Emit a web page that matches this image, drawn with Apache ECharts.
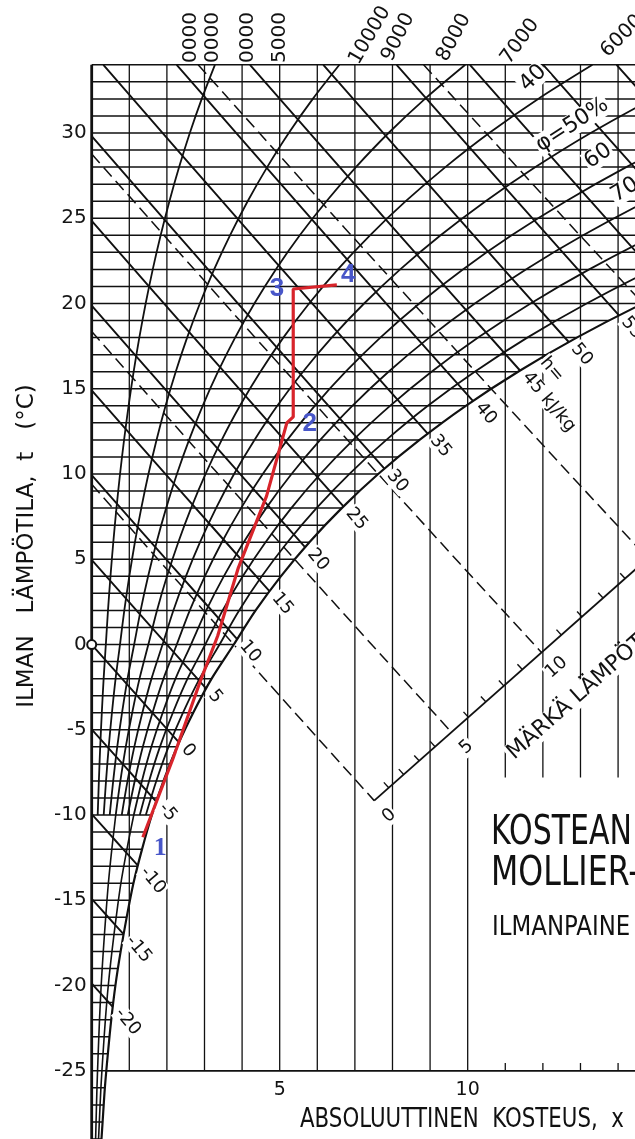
<!DOCTYPE html>
<html><head><meta charset="utf-8">
<script src="https://cdn.jsdelivr.net/npm/echarts@6/dist/echarts.min.js"></script>
<style>html,body{margin:0;padding:0;background:#fff}#c{width:635px;height:1139px}</style>
</head><body><div id="c"></div>
<script>
// ---------------- data ----------------
const tempTicks = [-25,-20,-15,-10,-5,0,5,10,15,20,25,30];
const humTicks = [5,10];
const humLines = [1,2,3,4,5,6,7,8,9,10,11,12,13,14];
// saturation curve: temperature (°C) -> absolute humidity (g/kg)
const satT = [-29,-28,-26,-24,-22,-20,-18,-16,-14,-12,-10,-8,-6,-4,-2,0,2,4,6,8,10,12,14,16,18,20,22,24,26,28,30,32,34];
const satX = [0.26,0.29,0.35,0.43,0.52,0.63,0.77,0.93,1.11,1.34,1.60,1.91,2.27,2.70,3.19,3.78,4.36,5.03,5.79,6.65,7.62,8.72,9.95,11.34,12.90,14.66,16.63,18.84,21.31,24.06,27.12,30.56,34.40];
const rhLevels = [10,20,30,40,50,60,70,80,90];
const rhLowLevels = [40,70];
const enthalpyLevels = [-20,-15,-10,-5,0,5,10,15,20,25,30,35,40,45,50,55,60,65,70,75,80,85,90,95,100];
const enthalpyLabels = [-20,-15,-10,-5,0,5,10,15,20,25,30,35,40,45,50,55];
const wetBulbLevels = [0,5,10,15,20,25];
const wetScaleLabels = [0,5,10];
const wetScaleLine = [[7.47,-9.24],[14.38,4.25]];
const processX = [1.36,2.16,2.88,3.35,3.90,4.65,5.19,5.36,5.36,6.52];
const processT = [-11.3,-6.7,-2.2,0.5,4.5,8.7,13.0,13.35,20.85,21.09];
const pointNames = ['1','2','3','4'];
const pointX = [1.82,5.80,4.93,6.82];
const pointT = [-11.95,12.94,20.85,21.67];
const edgeScaleLabels = ['0000','0000','0000','5000','10000','9000','8000','7000','6000'];
const rhLabelTexts = ['40','φ=50%','60','70'];

// ---------------- layout / style ----------------
const XMAX = 14.45, TMIN = -29, TMAX = 34, P = 101325;
const BLACK = '#111111';
const edgeLayout = [
  {x:191,y:63,rot:90},{x:213,y:63,rot:90},{x:248,y:63,rot:90},{x:280,y:63,rot:90},
  {x:354,y:63,rot:60},{x:387,y:60,rot:64},{x:442,y:60,rot:62},{x:505,y:62,rot:54},{x:604,y:54,rot:45}
];
const rhLabelAt = [[11.74,33.22,45],[12.78,30.47,33],[13.47,28.65,35],[14.18,26.66,32]];
const wetTitleAt = [11.10,-6.60];

// ---------------- helpers (chart construction) ----------------
function xsAt(t){
  let i = 0;
  while (i < satT.length-2 && t > satT[i+1]) i++;
  const f = (t-satT[i])/(satT[i+1]-satT[i]);
  return Math.exp(Math.log(satX[i])*(1-f) + Math.log(satX[i+1])*f);
}
function hAt(x,t){ return 1.006*t + x*(2.501+0.00186*t); }
function tChart(x,h){ return (h-2.501*x)/(1.006+0.00186*x); }
function bisect(f,a,b){
  let fa = f(a);
  for (let k=0;k<60;k++){ const m=(a+b)/2, fm=f(m); if ((fm>0)===(fa>0)){a=m;fa=fm;} else b=m; }
  return (a+b)/2;
}
function tSatOfH(h){ return bisect(t=>hAt(xsAt(t),t)-h, -35, 36); }
function rhX(t, rh){ const xs = xsAt(t); const p = P*xs/(622+xs)*rh/100; return 622*p/(P-p); }

const series = [];
function addLine(pts, w, opts){
  opts = opts || {};
  series.push({
    type:'line', data:pts, showSymbol:false, symbol:'none', silent:true, animation:false,
    smooth: opts.smooth || false, clip:true, z: opts.z || 2,
    lineStyle:{color: opts.color || BLACK, width:w, type: opts.type || 'solid', cap:'butt'}
  });
}

// isotherms (every 1 °C)
for (let t=TMIN; t<=TMAX; t++){
  addLine([[0,t],[Math.min(xsAt(t), XMAX+1),t]], 1.5);
}
// constant humidity lines
humLines.forEach(x=>{
  if (x <= 10) addLine([[x,-25],[x,TMAX]], 1.3);
  else { addLine([[x,-7.8],[x,TMAX]], 1.3); addLine([[x,-25],[x,-24.55]], 1.3); }
});
addLine([[0,TMIN],[0,TMAX]], 2.8);
// bottom axis line at -25 °C
addLine([[xsAt(-25),-25],[XMAX+1,-25]], 1.8);
// relative humidity curves
rhLevels.forEach(rh=>{
  const pts = satT.filter(t=>t>=-10).map(t=>[rhX(t,rh),t]);
  addLine(pts, 1.8, {smooth:0.3});
});
rhLowLevels.forEach(rh=>{
  const pts = satT.filter(t=>t<=-10).map(t=>[rhX(t,rh),t]);
  addLine(pts, 1.6, {smooth:0.3});
});
// saturation curve
addLine(satT.map((t,i)=>[satX[i],t]), 2.2, {smooth:0.3});
// enthalpy lines
const hEnds = {};
enthalpyLevels.forEach(h=>{
  const t0 = h/1.006;
  if (t0 < TMIN) return;
  let xs0 = 0, ts0 = t0;
  if (t0 > TMAX){ xs0 = (h-1.006*TMAX)/(2.501+0.00186*TMAX); ts0 = TMAX; }
  const tE = tSatOfH(h), xE = xsAt(tE);
  hEnds[h] = [xE,tE];
  const pts = [];
  for (let k=0;k<=4;k++){ const x = xs0 + (xE-xs0)*k/4; pts.push([x, k===4?tE:(k===0?ts0:tChart(x,h))]); }
  addLine(pts, 1.9);
});
// wet-bulb lines (dashed) and the wet-bulb scale
const A = wetScaleLine[0], B = wetScaleLine[1];
function wbLine(tw){
  const xs = xsAt(tw), hs = hAt(xs,tw);
  return x => tChart(x, hs + 0.004186*tw*(x-xs));
}
function scaleCross(tw){
  const f = wbLine(tw), xs = xsAt(tw);
  const g = x => (B[0]-A[0])*(f(x)-A[1]) - (B[1]-A[1])*(x-A[0]);
  const xi = bisect(g, xs, xs+20);
  return [xi, f(xi)];
}
wetBulbLevels.forEach(tw=>{
  const f = wbLine(tw), xs = xsAt(tw);
  let x0 = 0;
  if (f(0) > TMAX) x0 = bisect(x=>f(x)-TMAX, 0, xs);
  const end = scaleCross(tw);
  const pts = [[x0,f(x0)],[(x0+xs)/2,f((x0+xs)/2)],[xs,tw],[(xs+end[0])/2,f((xs+end[0])/2)],end];
  addLine(pts, 1.5, {type:[12,6]});
});
const scaleStart = scaleCross(0);
const tScaleEnd = A[1] + (B[1]-A[1])*(16-A[0])/(B[0]-A[0]);
addLine([scaleStart,[16,tScaleEnd]], 1.8);
for (let tw=1; tw<=17; tw++){
  if (tw%5===0) continue;
  const c = scaleCross(tw), f = wbLine(tw);
  addLine([[c[0]-0.13, f(c[0]-0.13)], c], 1.4);
}
// process line
addLine(processX.map((x,i)=>[x,processT[i]]), 3.2, {color:'#d8242b', z:6});

const chart = echarts.init(document.getElementById('c'));
chart.setOption({
  animation:false,
  backgroundColor:'#ffffff',
  textStyle:{fontFamily:'DejaVu Sans'},
  grid:{left:91.7,right:0,top:64.8,bottom:0,containLabel:false},
  xAxis:{type:'value',min:0,max:XMAX,axisLine:{show:false},axisTick:{show:false},axisLabel:{show:false},splitLine:{show:false}},
  yAxis:{type:'value',min:TMIN,max:TMAX,interval:1,axisLine:{show:false},axisTick:{show:false},splitLine:{show:false},
    axisLabel:{interval:0,margin:5,fontSize:20,fontFamily:'DejaVu Sans',color:'#151515',
      formatter:v=>tempTicks.indexOf(v)>=0?String(v):''}},
  series: series
});

// ---------------- text & marks placed through the chart scales ----------------
const px = (x,t)=>chart.convertToPixel({gridIndex:0},[x,t]);
const g = [];
function txt(x,y,text,o){
  g.push({type:'text', x:x, y:y, rotation:(o.rot||0)*Math.PI/180, scaleX:o.sx||1, z:100, silent:true,
    style:{text:text, font:o.font, fill:o.fill||BLACK, align:o.align||'left', verticalAlign:o.va||'middle',
      backgroundColor:o.bg, padding:o.pad}});
}
// axis titles
txt(27,546,'ILMAN   LÄMPÖTILA,  t   (°C)',{rot:90,align:'center',font:'23px "DejaVu Sans"'});
txt(300,1119.5,'ABSOLUUTTINEN  KOSTEUS,  x',{sx:0.79,font:'27px "DejaVu Sans"'});
// x tick labels
humTicks.forEach(v=>{ const p=px(v,-25); txt(p[0],p[1]+19,String(v),{align:'center',font:'19px "DejaVu Sans"'}); });
// title block
txt(491,834,'KOSTEAN ILMAN',{sx:0.75,font:'40px "DejaVu Sans"'});
txt(491,875,'MOLLIER-DIAGRAMMI',{sx:0.79,font:'40px "DejaVu Sans"'});
txt(492,928,'ILMANPAINE 101,3 kPa',{sx:0.88,font:'26px "DejaVu Sans"'});
// edge scale
edgeScaleLabels.forEach((s,i)=>{ const L=edgeLayout[i]; txt(L.x,L.y,s,{rot:L.rot,font:'20px "DejaVu Sans"'}); });
// enthalpy labels
enthalpyLabels.forEach(h=>{
  const e = hEnds[h]; if (!e) return;
  const p = px(e[0],e[1]);
  const S = [p[0]+5, p[1]+3];
  txt(S[0],S[1], h===45?'45 kJ/kg':String(h), {rot:-50,font:'18px "DejaVu Sans"',bg:'#fff',pad:[0,1]});
  if (h===45) txt(S[0]+17.6,S[1]-14.8,'h=',{rot:-50,font:'18px "DejaVu Sans"',bg:'#fff',pad:[0,1]});
});
// relative humidity labels
rhLabelTexts.forEach((s,i)=>{ const a=rhLabelAt[i]; const p=px(a[0],a[1]);
  txt(p[0],p[1],s,{rot:a[2],align:'center',font:'22px "DejaVu Sans"',bg:'#fff',pad:[0,1]}); });
// wet-bulb scale labels
wetScaleLabels.forEach(tw=>{ const c=scaleCross(tw); const p=px(c[0],c[1]);
  txt(p[0]+15,p[1]+15,String(tw),{rot:41.5,align:'center',font:'18px "DejaVu Sans"',bg:'#fff',pad:[0,1]}); });
{ const p = px(wetTitleAt[0],wetTitleAt[1]);
  txt(p[0],p[1],'MÄRKÄ LÄMPÖTILA',{rot:41.5,font:'22px "DejaVu Sans"',bg:'#fff',pad:[0,2]}); }
// process point names
pointNames.forEach((s,i)=>{ const p=px(pointX[i],pointT[i]);
  txt(p[0],p[1],s,{align:'center',fill:'#4856c8',font:(i===0?'bold 26px "Liberation Serif"':'bold 26px "Liberation Sans"')}); });
// pole circle
{ const p = px(0,0);
  g.push({type:'circle', z:100, silent:true, shape:{cx:p[0],cy:p[1],r:4.5}, style:{fill:'#fff',stroke:BLACK,lineWidth:2}}); }

chart.setOption({graphic:{elements:g}});
</script></body></html>
